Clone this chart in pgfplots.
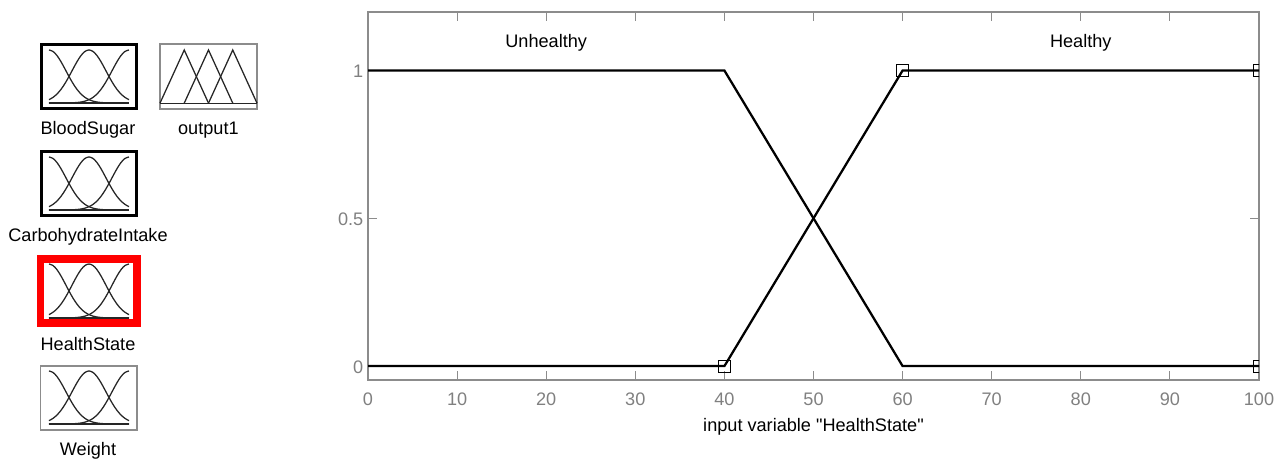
\documentclass[border=0pt]{standalone}
\usepackage{pgfplots}
\usepackage{pgfplotstable}
\usepackage{fontspec}
\setmainfont{Liberation Sans}
\newfontfamily\plainf{Liberation Sans}
\pgfplotsset{compat=1.18}
\definecolor{axgray}{HTML}{8C8C8C}
\definecolor{ticktext}{HTML}{808080}
\definecolor{curve}{HTML}{262626}
\newcommand{\lab}{\fontsize{13.6pt}{16pt}\selectfont}
\pgfplotstableread{
u a b c
0.00 1.0000 0.0625 0.0000
0.05 0.9727 0.1058 0.0000
0.10 0.8951 0.1696 0.0001
0.15 0.7792 0.2570 0.0003
0.20 0.6417 0.3685 0.0008
0.25 0.5000 0.5000 0.0020
0.30 0.3685 0.6417 0.0044
0.35 0.2570 0.7792 0.0092
0.40 0.1696 0.8951 0.0184
0.45 0.1058 0.9727 0.0349
0.50 0.0625 1.0000 0.0625
0.55 0.0349 0.9727 0.1058
0.60 0.0184 0.8951 0.1696
0.65 0.0092 0.7792 0.2570
0.70 0.0044 0.6417 0.3685
0.75 0.0020 0.5000 0.5000
0.80 0.0008 0.3685 0.6417
0.85 0.0003 0.2570 0.7792
0.90 0.0001 0.1696 0.8951
0.95 0.0000 0.1058 0.9727
1.00 0.0000 0.0625 1.0000
}\gausstab
% args: left px, bottom px, width px, height px, xmin, xmax, ymin, ymax, frame options
\newcommand{\gaussicon}[9]{%
\begin{axis}[
  at={(#1*0.75pt,{(461-#2)*0.75pt})}, anchor=south west,
  scale only axis, width=#3*0.75pt, height=#4*0.75pt,
  xmin=#5, xmax=#6, ymin=#7, ymax=#8,
  ticks=none, clip=false,
  axis line style={#9},
]
\addplot[curve,line width=0.95pt,smooth] table[x=u,y=a]{\gausstab};
\addplot[curve,line width=0.95pt,smooth] table[x=u,y=b]{\gausstab};
\addplot[curve,line width=0.95pt,smooth] table[x=u,y=c]{\gausstab};
\addplot[curve,line width=0.95pt] coordinates {(0,0) (1,0)};
\end{axis}}
\begin{document}
\begin{tikzpicture}
\path (0,0) rectangle (961.5pt,345.75pt);
% main axis
\begin{axis}[
  at={(276pt,60.75pt)}, anchor=south west,
  scale only axis, width=668.25pt, height=276pt,
  xmin=0, xmax=100, ymin=-0.047, ymax=1.198,
  xtick={0,10,...,100}, ytick={0,0.5,1},
  yticklabels={0,0.5,1},
  tick pos=both, tick align=inside,
  xticklabel pos=bottom, yticklabel pos=left,
  major tick length=6.75pt,
  every tick/.style={axgray,line width=0.8pt},
  axis line style={axgray,line width=1pt},
  /pgf/number format/assume math mode=true,
  tick label style={font=\lab,text=ticktext},
  xticklabel style={yshift=-6pt},
  yticklabel style={yshift=-0.5pt},
  xlabel={\plainf input variable "HealthState"},
  xlabel style={font=\lab,text=black,yshift=-2.5pt},
  clip marker paths=true,
]
\addplot[black,line width=1.7pt] coordinates {(0,1) (40,1) (60,0) (100,0)};
\addplot[black,line width=1.7pt] coordinates {(0,0) (40,0) (60,1) (100,1)};
\addplot[only marks,mark=square,mark size=4.5pt,mark options={black,line width=0.6pt,fill=none}]
  coordinates {(40,0) (60,1) (100,1) (100,0)};
\node[font=\lab,yshift=-1.5pt] at (axis cs:20,1.1) {Unhealthy};
\node[font=\lab,yshift=-1.5pt] at (axis cs:80,1.1) {Healthy};
\end{axis}
% icons
\gaussicon{41}{109}{95.5}{64}{-0.1}{1.094}{-0.113}{1.094}{black,line width=2.25pt}
\gaussicon{41}{216}{95.5}{64}{-0.1}{1.094}{-0.113}{1.094}{black,line width=2.25pt}
\gaussicon{40.5}{323.3}{96.3}{64.1}{-0.106}{1.0975}{-0.098}{1.089}{red,line width=5.8pt}
\gaussicon{40.5}{430}{96.5}{64}{-0.106}{1.1}{-0.113}{1.094}{axgray,line width=0.9pt}
\begin{axis}[
  at={(120pt,{(461-109)*0.75pt})}, anchor=south west,
  scale only axis, width=72.75pt, height=48.75pt,
  xmin=0, xmax=4, ymin=-0.11, ymax=1.113,
  ticks=none, clip=false,
  axis line style={axgray,line width=0.9pt},
]
\addplot[curve,line width=0.95pt] coordinates {(0,0) (1,1) (2,0)};
\addplot[curve,line width=0.95pt] coordinates {(1,0) (2,1) (3,0)};
\addplot[curve,line width=0.95pt] coordinates {(2,0) (3,1) (4,0)};
\addplot[curve,line width=0.95pt] coordinates {(0,0) (4,0)};
\end{axis}
% icon names
\node[font=\lab,text=black] at (66pt,{(461-130)*0.75pt}) {BloodSugar};
\node[font=\lab,text=black] at (156.3pt,{(461-130)*0.75pt}) {output1};
\node[font=\lab,text=black] at (66pt,{(461-237)*0.75pt}) {CarbohydrateIntake};
\node[font=\lab,text=black] at (66pt,{(461-344)*0.75pt}) {HealthState};
\node[font=\lab,text=black] at (66pt,{(461-451)*0.75pt}) {Weight};
\end{tikzpicture}
\end{document}
